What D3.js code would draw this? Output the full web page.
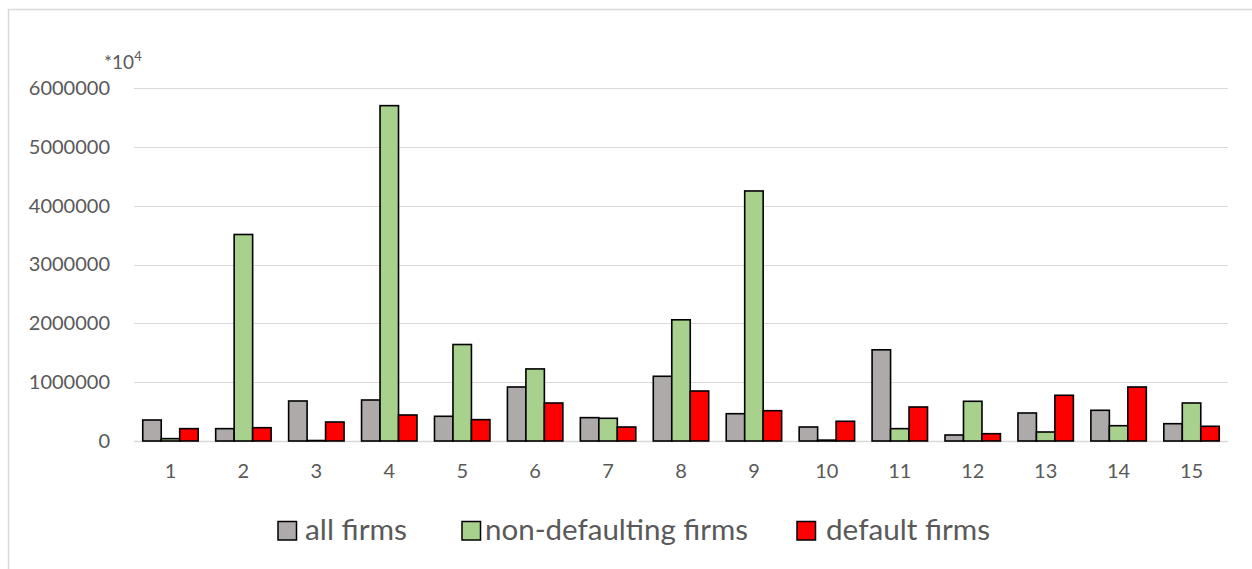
<!DOCTYPE html>
<html><head><meta charset="utf-8">
<script src="https://cdn.jsdelivr.net/npm/d3@7"></script>
<style>body{margin:0;background:#fff}svg{display:block}</style>
</head><body>
<svg id="c" width="1252" height="569"></svg>
<script>
const categories = ["1","2","3","4","5","6","7","8","9","10","11","12","13","14","15"];
const seriesNames = ["all firms","non-defaulting firms","default firms"];
const allFirms = [357000,210000,680000,697000,420000,918000,397000,1100000,464000,238000,1550000,102000,476000,522000,294000];
const nonDefaulting = [40000,3510000,8000,5700000,1640000,1225000,386000,2060000,4250000,15000,210000,675000,153000,260000,646000];
const defaultFirms = [210000,226000,323000,442000,363000,646000,238000,850000,515000,335000,578000,124000,777000,918000,250000];
const yTicks = [0,1000000,2000000,3000000,4000000,5000000,6000000];
const colors = ["#aeaaaa","#a9d18e","#ff0000"];

const svg = d3.select("#c");
const font = "Lato, 'Open Sans', sans-serif";
svg.append("rect").attr("x",8.5).attr("y",9.5).attr("width",1300).attr("height",700)
  .attr("fill","#fff").attr("stroke","#d9d9d9").attr("stroke-width",1.5);

const x0 = d3.scaleBand().domain(categories).range([134,1228]).paddingInner(0).paddingOuter(0);
const seriesData = [allFirms, nonDefaulting, defaultFirms];
const groupW = x0.bandwidth()*0.76;
const x1 = d3.scaleBand().domain(d3.range(3)).range([0,groupW]);
const y = d3.scaleLinear().domain([0,6000000]).range([441,88]);

// gridlines
svg.append("g").selectAll("line").data(yTicks).join("line")
  .attr("x1",134).attr("x2",1228).attr("y1",d=>Math.round(y(d))+0.5).attr("y2",d=>Math.round(y(d))+0.5)
  .attr("stroke","#d9d9d9").attr("stroke-width",d=>d===0?1.5:1);

// y axis labels
const yAxis = d3.axisLeft(y).tickValues(yTicks).tickFormat(d3.format("d")).tickSize(0).tickPadding(0);
const ga = svg.append("g").attr("transform","translate(110,0)").call(yAxis);
ga.select(".domain").remove();
ga.selectAll("text").attr("font-family",font).attr("font-size",20).attr("fill","#595959");

svg.append("text").attr("x",104).attr("y",69).attr("font-family",font).attr("font-size",19).attr("fill","#595959")
  .text("*10").append("tspan").attr("dy",-8).attr("font-size",13).text("4");

// bars
categories.forEach((c,i)=>{
  const gx = x0(c) + (x0.bandwidth()-groupW)/2;
  seriesData.forEach((s,j)=>{
    const v = s[i];
    svg.append("rect").attr("x",gx+x1(j)).attr("y",y(v)).attr("width",x1.bandwidth()).attr("height",y(0)-y(v))
      .attr("fill",colors[j]).attr("stroke","#000").attr("stroke-width",1.6);
  });
});

// x labels
const xAxis = d3.axisBottom(x0).tickSize(0).tickPadding(0);
const gx = svg.append("g").attr("transform","translate(0,464)").call(xAxis);
gx.select(".domain").remove();
gx.selectAll("text").attr("font-family",font).attr("font-size",20).attr("fill","#595959").attr("dy","0.71em");

// legend
const legendX = [278, 462, 797];
const textX = [305, 485, 826];
const textW = [102, 263, 164];
seriesNames.forEach((n,j)=>{
  svg.append("rect").attr("x",legendX[j]).attr("y",521.5).attr("width",18.5).attr("height",18.5)
    .attr("fill",colors[j]).attr("stroke","#000").attr("stroke-width",1.5);
  svg.append("text").attr("x",textX[j]).attr("y",540).attr("font-family",font).attr("font-size",28)
    .attr("textLength",textW[j]).attr("lengthAdjust","spacingAndGlyphs").attr("fill","#595959").text(n);
});
</script>
</body></html>
